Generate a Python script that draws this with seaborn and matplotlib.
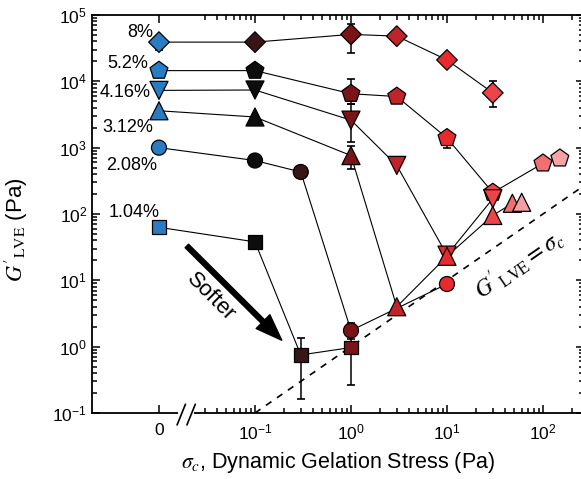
import numpy as np
import pandas as pd
import matplotlib
matplotlib.use('Agg')
import matplotlib.pyplot as plt
import seaborn as sns
from matplotlib.ticker import FixedLocator, FixedFormatter, LogLocator, NullFormatter

# data
series = ['8%', '5.2%', '4.16%', '3.12%', '2.08%', '1.04%']
markers = ['D', 'p', 'v', '^', 'o', 's']

stress_8 = [0, 0.1, 1, 3, 10, 30]
g_8 = [3.9e4, 3.9e4, 5.1e4, 4.8e4, 2.1e4, 6.7e3]

stress_52 = [0, 0.1, 1, 3, 10, 30, 100, 150]
g_52 = [1.45e4, 1.45e4, 6.5e3, 5.9e3, 1.4e3, 2.1e2, 5.8e2, 6.9e2]

stress_416 = [0, 0.1, 1, 3, 10, 30]
g_416 = [7.3e3, 7.4e3, 2.6e3, 5.4e2, 24, 1.7e2]

stress_312 = [0, 0.1, 1, 3, 10, 30, 48, 60]
g_312 = [3.6e3, 2.9e3, 7.6e2, 4.0, 23, 95, 145, 150]

stress_208 = [0, 0.1, 0.3, 1, 10]
g_208 = [1.0e3, 6.4e2, 4.3e2, 1.75, 8.8]

stress_104 = [0, 0.1, 0.3, 1]
g_104 = [63, 38, 0.75, 0.97]

err_series = ['8%', '8%', '8%', '5.2%', '5.2%', '4.16%', '3.12%', '2.08%', '1.04%', '1.04%']
err_stress = [0, 1, 30, 1, 10, 1, 1, 1, 0.3, 1]
err_low = [3.0e4, 2.7e4, 4.1e3, 4.6e3, 1.0e3, 1.2e3, 4.8e2, 1.75, 0.16, 0.26]
err_high = [3.9e4, 7.4e4, 1.0e4, 1.07e4, 1.4e3, 4.6e3, 1.05e3, 2.3, 1.36, 1.3]

y_ticks = [1e-1, 1e0, 1e1, 1e2, 1e3, 1e4, 1e5]
y_ticklabels = [r'$\mathdefault{10^{-1}}$', r'$\mathdefault{10^{0}}$', r'$\mathdefault{10^{1}}$',
                r'$\mathdefault{10^{2}}$', r'$\mathdefault{10^{3}}$', r'$\mathdefault{10^{4}}$',
                r'$\mathdefault{10^{5}}$']
x_ticklabels = ['0', r'$\mathdefault{10^{-1}}$', r'$\mathdefault{10^{0}}$',
                r'$\mathdefault{10^{1}}$', r'$\mathdefault{10^{2}}$']

stress_lists = [stress_8, stress_52, stress_416, stress_312, stress_208, stress_104]
g_lists = [g_8, g_52, g_416, g_312, g_208, g_104]

# colour by gelation stress
stress_colors = {0: '#2a7cc2', 0.1: '#0d0d0d', 0.3: '#3a1518', 1: '#7a1417',
                 3: '#c0232a', 10: '#e82a2f', 30: '#ec4448', 48: '#ee6e72',
                 60: '#f4a0a2', 100: '#ef6f73', 150: '#f5a3a5'}
color_override = {('8%', 0.1): '#3a1518'}
marker_sizes = {'D': 10.5, 'p': 13.5, 'v': 13, '^': 13, 'o': 10.8, 's': 10}

X_ZERO = 1e-2  # where "0" sits on the broken log axis

def xpos(s):
    return X_ZERO if s == 0 else s

sns.set_style('ticks')
plt.rcParams['font.family'] = ['Liberation Sans', 'DejaVu Sans']
plt.rcParams['mathtext.fontset'] = 'stix'
for key in ['text.color', 'axes.labelcolor', 'xtick.color', 'ytick.color', 'axes.edgecolor']:
    plt.rcParams[key] = 'black'

fig = plt.figure(figsize=(5.81, 4.79), dpi=100)
ax = fig.add_axes([0.1583, 0.1378, 0.8468, 0.8309])
ax.set_xscale('log')
ax.set_yscale('log')
ax.set_xlim(10 ** -2.698, 10 ** 2.427)
ax.set_ylim(1e-1, 1e5)

# G' = sigma_c line
ax.plot([0.1, 10 ** 2.6], [0.1, 10 ** 2.6], color='black', lw=1.2,
        ls=(0, (4, 4)), zorder=1)

for name, mk, st, gv in zip(series, markers, stress_lists, g_lists):
    df = pd.DataFrame({'x': [xpos(s) for s in st], 'G': gv,
                       'c': [color_override.get((name, s), stress_colors[s]) for s in st]})
    sns.lineplot(data=df, x='x', y='G', color='black', lw=0.8, sort=False,
                 estimator=None, ax=ax, zorder=2)

    idx = [i for i, n in enumerate(err_series) if n == name]
    ex = [xpos(err_stress[i]) for i in idx]
    ey = [gv[st.index(err_stress[i])] for i in idx]
    lo = [y - err_low[i] for y, i in zip(ey, idx)]
    hi = [err_high[i] - y for y, i in zip(ey, idx)]
    if idx:
        ax.errorbar(ex, ey, yerr=[lo, hi], fmt='none', ecolor='black', elinewidth=1.1,
                    capsize=3, capthick=1.2, zorder=2.5)

    sns.scatterplot(data=df, x='x', y='G', hue='c', palette={c: c for c in df['c']},
                    marker=mk, s=marker_sizes[mk] ** 2, edgecolor='black',
                    linewidth=0.9, legend=False, ax=ax, zorder=3)

# ticks
ax.xaxis.set_major_locator(FixedLocator([X_ZERO, 0.1, 1, 10, 100]))
ax.xaxis.set_major_formatter(FixedFormatter(x_ticklabels))
minor_x = [m * 10.0 ** e for e in range(-2, 3) for m in range(2, 10) if 0.025 < m * 10.0 ** e < 260]
ax.xaxis.set_minor_locator(FixedLocator(minor_x))
ax.xaxis.set_minor_formatter(NullFormatter())
ax.yaxis.set_major_locator(FixedLocator(y_ticks))
ax.yaxis.set_major_formatter(FixedFormatter(y_ticklabels))
minor_y = [m * 10.0 ** e for e in range(-1, 5) for m in range(2, 10)]
ax.yaxis.set_minor_locator(FixedLocator(minor_y))
ax.yaxis.set_minor_formatter(NullFormatter())
ax.tick_params(which='both', direction='in', top=True, right=True, width=1.1, labelsize=12.5)
ax.tick_params(which='major', length=6)
ax.tick_params(which='minor', length=3.5)
for sp in ax.spines.values():
    sp.set_linewidth(1.3)
ax.tick_params(axis='x', pad=7)

ax.set_xlabel(r'$\sigma_c$, Dynamic Gelation Stress (Pa)', fontsize=15.5, labelpad=5)
ax.set_ylabel(r"$G'_{\rm LVE}$ (Pa)", fontsize=16)
ax.yaxis.set_label_coords(-0.125, 0.46)

# axis break
ax.plot([0.179, 0.203], [0, 0], transform=ax.transAxes, color='white', lw=3,
        clip_on=False, zorder=5)
for x0 in (0.173, 0.193):
    ax.plot([x0, x0 + 0.017], [-0.030, 0.022], transform=ax.transAxes, color='black',
            lw=1.2, clip_on=False, zorder=6)

# concentration labels
label_x = [0.0087, 0.0077, 0.0081, 0.0087, 0.0095, 0.0102]
label_y = [5.5e4, 1.86e4, 6.8e3, 2.0e3, 5.4e2, 1.05e2]
for txt, lx, ly in zip(series, label_x, label_y):
    ax.text(lx, ly, txt, ha='right', va='center', fontsize=13)

# Softer arrow
ax.annotate('', xy=(0.19, 1.25), xytext=(0.0195, 33),
            arrowprops=dict(width=3.5, headwidth=14, headlength=19, color='black', shrink=0))
ax.text(0.035, 5.6, 'Softer', rotation=-45, ha='center', va='center', fontsize=16)

# line label
p1 = ax.transData.transform((1, 1))
p2 = ax.transData.transform((10, 10))
ang = np.degrees(np.arctan2(p2[1] - p1[1], p2[0] - p1[0]))
ax.text(56, 18, r"$G'_{\rm LVE} = \sigma_c$", rotation=ang, ha='center', va='center',
        fontsize=17, rotation_mode='anchor')

fig.savefig('out.png', dpi=100)
